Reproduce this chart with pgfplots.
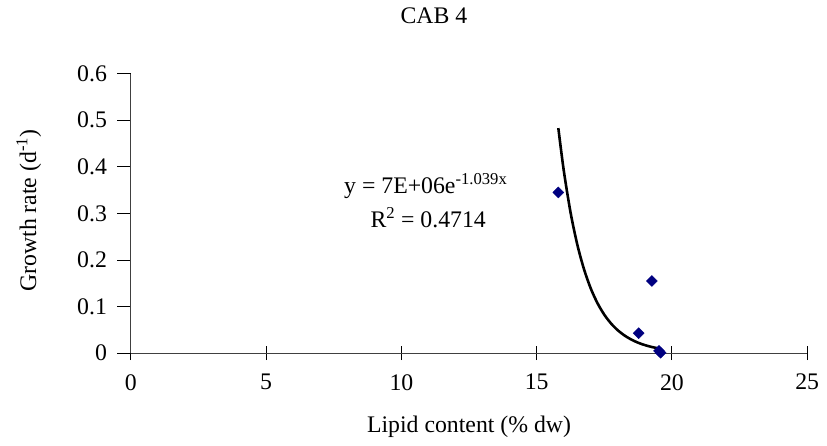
\documentclass[border=0pt]{standalone}
\usepackage{fontspec}
\setmainfont{Liberation Serif}
\usepackage{pgfplots}
\pgfplotsset{compat=1.18}
\definecolor{navy}{RGB}{0,0,128}
\newcommand{\fs}{\fontsize{24}{28}\selectfont}
\begin{document}
\fs
\begin{tikzpicture}[x=1bp,y=1bp]
\begin{axis}[
  scale only axis,
  width=680.3bp, height=281.3bp,
  xmin=0, xmax=25, ymin=0, ymax=0.6,
  axis x line=bottom, axis y line=left,
  axis line style={-, black!75, line width=0.9bp},
  xtick={0,5,10,15,20,25},
  ytick={0,0.1,0.2,0.3,0.4,0.5,0.6},
  yticklabels={0,0.1,0.2,0.3,0.4,0.5,0.6},
  tick align=center,
  major tick length=14bp,
  tick style={black, line width=0.9bp},
  ytick style={xshift=-7bp},
  /pgf/number format/assume math mode=true,
  ticklabel style={font=\fs},
  xticklabel style={yshift=-6bp},
  yticklabel style={xshift=-9bp},
  clip=false,
  title={CAB 4},
  title style={at={(axis description cs:0.448,1.185)}, anchor=center, font=\fs},
  xlabel={Lipid content (\% dw)},
  xlabel style={at={(axis description cs:0.5,-0.263)}, anchor=center, font=\fs},
  ylabel={Growth rate (d\textsuperscript{-1})},
  ylabel style={at={(axis description cs:-0.151,0.51)}, anchor=center, rotate=0, font=\fs},
]
\addplot[black, line width=2.6bp, smooth, no marks] coordinates {
 (15.80,0.483) (16.0,0.3924) (16.25,0.3026) (16.5,0.2334) (16.75,0.1800)
 (17.0,0.1388) (17.25,0.1071) (17.5,0.0826) (17.75,0.0637) (18.0,0.0491)
 (18.25,0.0379) (18.5,0.0292) (18.75,0.0225) (19.0,0.0174) (19.25,0.0134)
 (19.54,0.0099)
};
\addplot[only marks, mark=square*, mark options={rotate=45}, mark size=3.9bp, color=navy] coordinates {
 (15.80,0.345) (19.26,0.155) (18.77,0.043) (19.52,0.005) (19.58,0.001)
};
\node[font=\fs, anchor=base] at (axis cs:10.90,0.342) {y = 7E+06e\textsuperscript{-1.039x}};
\node[font=\fs, anchor=base] at (axis cs:10.99,0.270) {R\textsuperscript{2} = 0.4714};
\end{axis}
\path (-131.7bp,-91.7bp) rectangle (695.3bp,353.3bp);
\end{tikzpicture}
\end{document}
